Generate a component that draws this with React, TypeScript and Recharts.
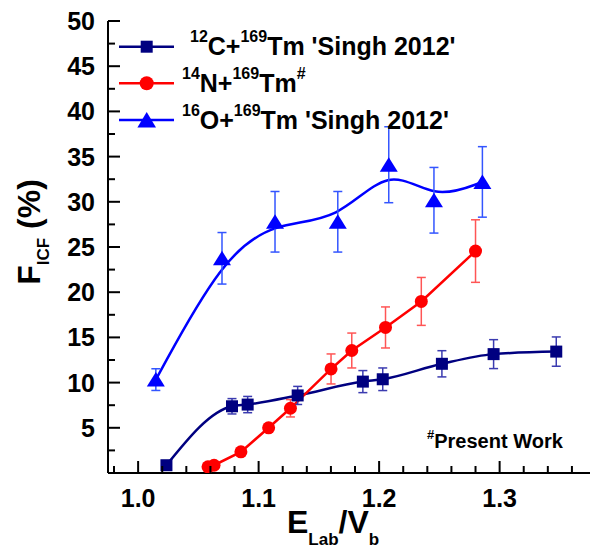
import React from 'react';
import { ComposedChart, Line, Scatter, XAxis, YAxis, ErrorBar } from 'recharts';

// 12C + 169Tm (Singh 2012)
const cX = [1.0235, 1.0779, 1.0909, 1.1324, 1.1865, 1.203, 1.2521, 1.295, 1.347];
const cY = [0.86, 7.38, 7.57, 8.58, 10.11, 10.37, 12.08, 13.15, 13.43];
const cErr = [0, 0.85, 0.9, 1.0, 1.22, 1.25, 1.45, 1.6, 1.62];

// 14N + 169Tm (present work)
const nX = [1.058, 1.063, 1.0853, 1.1083, 1.1264, 1.1601, 1.1773, 1.2053, 1.235, 1.28];
const nY = [0.68, 0.86, 2.34, 5.0, 7.16, 11.51, 13.55, 16.1, 18.98, 24.55];
const nErr = [0, 0, 0, 0, 0.96, 1.66, 1.93, 2.27, 2.65, 3.46];

// 16O + 169Tm (Singh 2012)
const oX = [1.0147, 1.0696, 1.1136, 1.1657, 1.208, 1.2455, 1.2857];
const oY = [10.33, 23.75, 27.79, 27.79, 34.1, 30.17, 32.2];
const oErr = [1.2, 2.85, 3.35, 3.35, 4.2, 3.63, 3.9];

const xTicks = [0.98, 1.0, 1.02, 1.04, 1.06, 1.08, 1.1, 1.12, 1.14, 1.16, 1.18, 1.2, 1.22, 1.24, 1.26, 1.28, 1.3, 1.32, 1.34, 1.36];
const yTicks = [0, 2.5, 5, 7.5, 10, 12.5, 15, 17.5, 20, 22.5, 25, 27.5, 30, 32.5, 35, 37.5, 40, 42.5, 45, 47.5, 50];

const toPts = (xs: number[], ys: number[], es: number[]) => xs.map((x, i) => ({ x, y: ys[i], err: es[i] }));
const cData = toPts(cX, cY, cErr);
const nData = toPts(nX, nY, nErr);
const oData = toPts(oX, oY, oErr);

const FONT = '"Liberation Sans", Arial, Helvetica, sans-serif';
const NAVY = '#000080';
const RED = '#ff0000';
const BLUE = '#0000ff';

const isMajorX = (v: number) => Math.abs(v * 10 - Math.round(v * 10)) < 1e-6;
const isMajorY = (v: number) => Math.abs(v / 5 - Math.round(v / 5)) < 1e-6;

const BottomTick = (p: any) => {
  const { x, y, payload } = p;
  const v = payload.value;
  const major = isMajorX(v);
  return (
    <g>
      <line x1={x} y1={y} x2={x} y2={y - (major ? 12 : 7)} stroke="#000" strokeWidth={2} />
      {major && (
        <text x={x} y={y + 34} textAnchor="middle" fontFamily={FONT} fontWeight="bold" fontSize={25} fill="#000">
          {v.toFixed(1)}
        </text>
      )}
    </g>
  );
};
const TopTick = (p: any) => {
  const { x, y, payload } = p;
  const major = isMajorX(payload.value);
  return <line x1={x} y1={y} x2={x} y2={y + (major ? 12 : 7)} stroke="#000" strokeWidth={2} />;
};
const LeftTick = (p: any) => {
  const { x, y, payload } = p;
  const v = payload.value;
  const major = isMajorY(v);
  return (
    <g>
      <line x1={x} y1={y} x2={x + (major ? 12 : 7)} y2={y} stroke="#000" strokeWidth={2} />
      {major && v > 0 && (
        <text x={x - 13} y={y} dy="0.36em" textAnchor="end" fontFamily={FONT} fontWeight="bold" fontSize={25} fill="#000">
          {String(v)}
        </text>
      )}
    </g>
  );
};
const RightTick = (p: any) => {
  const { x, y, payload } = p;
  const major = isMajorY(payload.value);
  return <line x1={x} y1={y} x2={x - (major ? 12 : 7)} y2={y} stroke="#000" strokeWidth={2} />;
};

const Square = (p: any) => <rect x={p.cx - 6} y={p.cy - 6} width={12} height={12} fill={NAVY} />;
const Dot = (p: any) => <circle cx={p.cx} cy={p.cy} r={6.5} fill={RED} />;
const Tri = (p: any) => (
  <polygon points={`${p.cx},${p.cy - 7.5} ${p.cx + 9},${p.cy + 7} ${p.cx - 9},${p.cy + 7}`} fill={BLUE} />
);

const axisLine = { stroke: '#000', strokeWidth: 2 };

export default function App() {
  return (
    <div style={{ position: 'absolute', left: 0, top: 0, width: 603, height: 552, background: '#fff' }}>
      <ComposedChart width={603} height={552} margin={{ top: 21, right: 13, bottom: 0, left: 0 }}>
        <XAxis
          type="number"
          dataKey="x"
          domain={[0.975, 1.375]}
          ticks={xTicks}
          interval={0}
          allowDataOverflow
          height={79}
          tickSize={0}
          tickMargin={0}
          tickLine={false}
          axisLine={axisLine}
          tick={(p: any) => <BottomTick {...p} />}
        />
        <XAxis
          xAxisId="top"
          orientation="top"
          type="number"
          dataKey="x"
          domain={[0.975, 1.375]}
          ticks={xTicks}
          interval={0}
          allowDataOverflow
          height={0}
          tickSize={0}
          tickMargin={0}
          tickLine={false}
          axisLine={axisLine}
          tick={(p: any) => <TopTick {...p} />}
        />
        <YAxis
          type="number"
          dataKey="y"
          domain={[0, 50]}
          ticks={yTicks}
          interval={0}
          allowDataOverflow
          width={108}
          tickSize={0}
          tickMargin={0}
          tickLine={false}
          axisLine={axisLine}
          tick={(p: any) => <LeftTick {...p} />}
        />
        <YAxis
          yAxisId="right"
          orientation="right"
          type="number"
          dataKey="y"
          domain={[0, 50]}
          ticks={yTicks}
          interval={0}
          allowDataOverflow
          width={0}
          tickSize={0}
          tickMargin={0}
          tickLine={false}
          axisLine={axisLine}
          tick={(p: any) => <RightTick {...p} />}
        />
        <Line data={cData} dataKey="y" type="monotone" stroke={NAVY} strokeWidth={2.5} dot={false} activeDot={false} isAnimationActive={false} />
        <Line data={nData} dataKey="y" type="linear" stroke={RED} strokeWidth={2.5} dot={false} activeDot={false} isAnimationActive={false} />
        <Line data={oData} dataKey="y" type="basis" stroke={BLUE} strokeWidth={2.5} dot={false} activeDot={false} isAnimationActive={false} />
        <Scatter data={cData} shape={Square} isAnimationActive={false}>
          <ErrorBar dataKey="err" direction="y" width={4.5} stroke="#3b3bb0" strokeWidth={1.5} isAnimationActive={false} />
        </Scatter>
        <Scatter data={nData} shape={Dot} isAnimationActive={false}>
          <ErrorBar dataKey="err" direction="y" width={4.5} stroke="#ff5555" strokeWidth={1.5} isAnimationActive={false} />
        </Scatter>
        <Scatter data={oData} shape={Tri} isAnimationActive={false}>
          <ErrorBar dataKey="err" direction="y" width={4.5} stroke="#3355ff" strokeWidth={1.5} isAnimationActive={false} />
        </Scatter>
      </ComposedChart>
      <svg
        width={603}
        height={552}
        style={{ position: 'absolute', left: 0, top: 0, pointerEvents: 'none' }}
        fontFamily={FONT}
        fontWeight="bold"
      >
        {/* Legend */}
        <line x1={119} y1={46.7} x2={174} y2={46.7} stroke={NAVY} strokeWidth={2.5} />
        <rect x={140.7} y={40.7} width={12} height={12} fill={NAVY} />
        <text x={190} y={55} fontSize={25} fill="#000">
          <tspan fontSize={16} dy={-13}>12</tspan>
          <tspan dy={13}>C+</tspan>
          <tspan fontSize={16} dy={-13}>169</tspan>
          <tspan dy={13}>Tm 'Singh 2012'</tspan>
        </text>

        <line x1={119} y1={83.3} x2={174} y2={83.3} stroke={RED} strokeWidth={2.5} />
        <circle cx={146.7} cy={83.3} r={7} fill={RED} />
        <text x={182} y={92} fontSize={25} fill="#000">
          <tspan fontSize={16} dy={-13}>14</tspan>
          <tspan dy={13}>N+</tspan>
          <tspan fontSize={16} dy={-13}>169</tspan>
          <tspan dy={13}>Tm</tspan>
          <tspan fontSize={16} dy={-13}>#</tspan>
        </text>

        <line x1={119} y1={120} x2={174} y2={120} stroke={BLUE} strokeWidth={2.5} />
        <polygon points="146.7,112 156,127.5 137.4,127.5" fill={BLUE} />
        <text x={182} y={129} fontSize={25} fill="#000">
          <tspan fontSize={16} dy={-13}>16</tspan>
          <tspan dy={13}>O+</tspan>
          <tspan fontSize={16} dy={-13}>169</tspan>
          <tspan dy={13}>Tm 'Singh 2012'</tspan>
        </text>

        {/* Note */}
        <text x={427} y={448} fontSize={20} fill="#000">
          <tspan fontSize={13} dy={-9}>#</tspan>
          <tspan dy={9}>Present Work</tspan>
        </text>

        {/* Axis titles */}
        <text x={287} y={533} fontSize={32} fill="#000">
          <tspan>E</tspan>
          <tspan fontSize={17} dy={12}>Lab</tspan>
          <tspan dy={-12}>/V</tspan>
          <tspan fontSize={17} dy={12}>b</tspan>
        </text>
        <text transform="translate(40,232) rotate(-90)" textAnchor="middle" fontSize={32} fill="#000">
          <tspan>F</tspan>
          <tspan fontSize={17} dy={9}>ICF</tspan>
          <tspan dy={-9}> (%)</tspan>
        </text>
      </svg>
    </div>
  );
}
